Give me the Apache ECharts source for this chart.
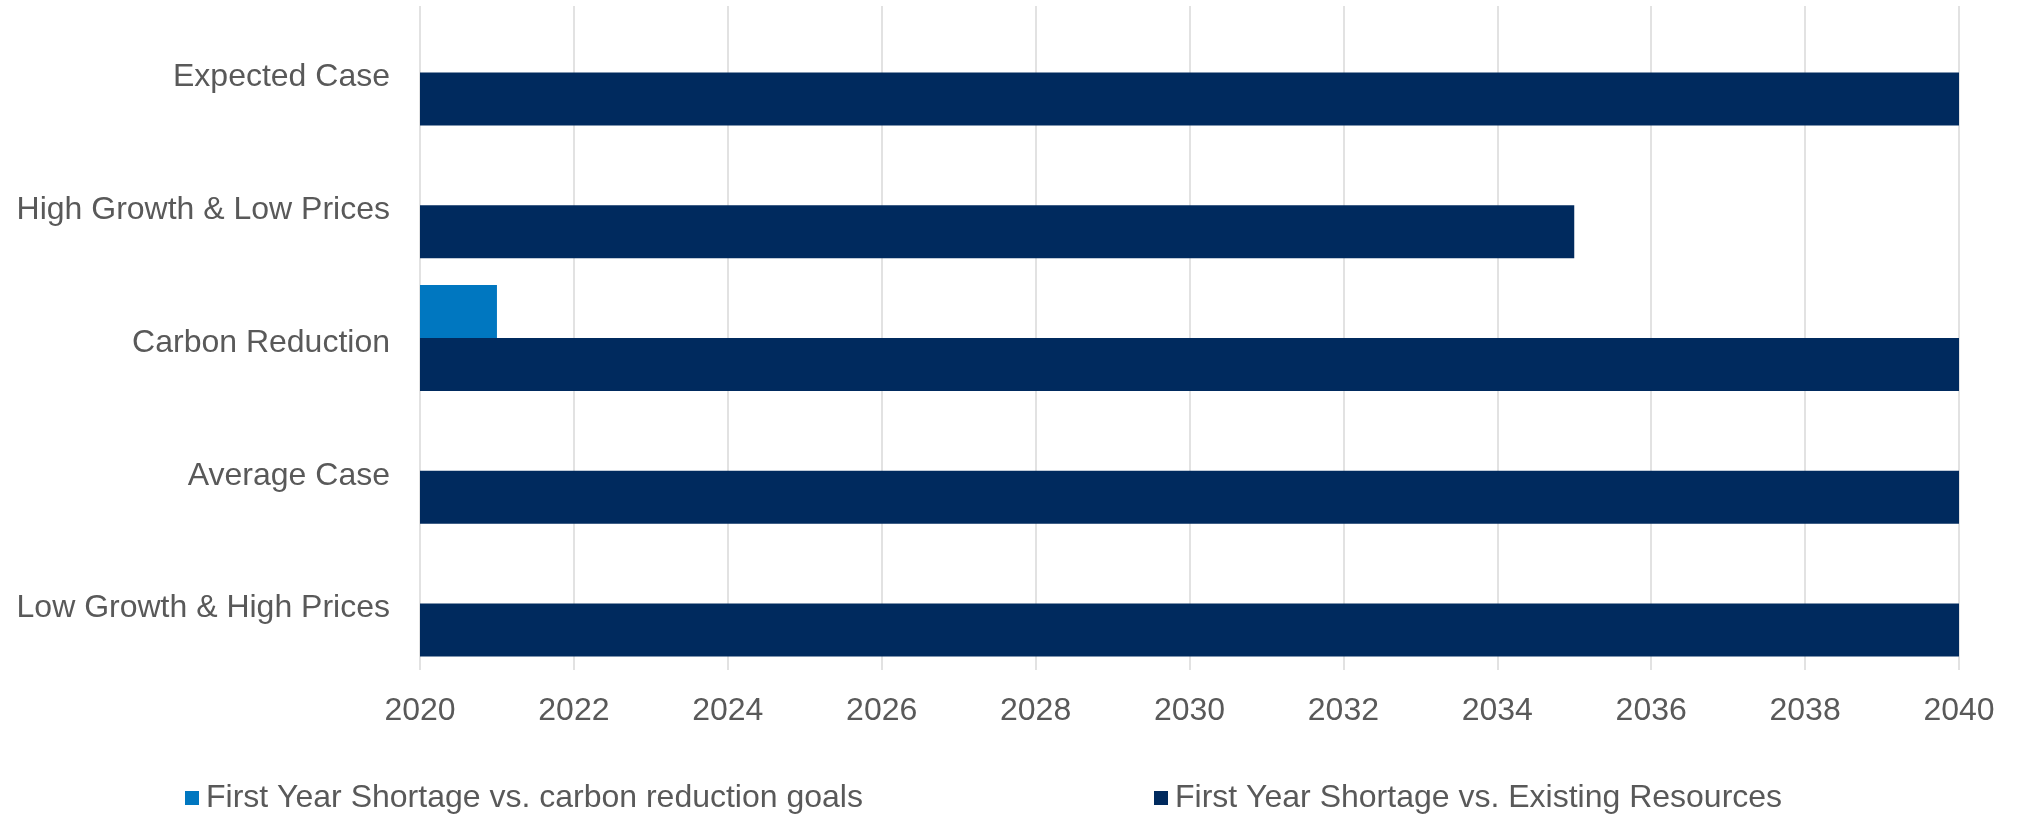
<!DOCTYPE html>
<html>
<head>
<meta charset="utf-8">
<script src="https://cdn.jsdelivr.net/npm/echarts@6/dist/echarts.min.js"></script>
<style>
  html, body { margin: 0; padding: 0; background: #ffffff; }
  #chart { width: 2021px; height: 815px; }
</style>
</head>
<body>
<div id="chart"></div>
<script>
const categories = ['Expected Case', 'High Growth & Low Prices', 'Carbon Reduction', 'Average Case', 'Low Growth & High Prices'];
const carbonGoalYears = [null, null, 2021, null, null];
const existingResourceYears = [2040, 2035, 2040, 2040, 2040];
const seriesNames = ['First Year Shortage vs. carbon reduction goals', 'First Year Shortage vs. Existing Resources'];
const axisMin = 2020;
const axisMax = 2040;
const axisStep = 2;

const FONT = '"Liberation Sans", Arial, sans-serif';
const TEXT = '#595959';

const chart = echarts.init(document.getElementById('chart'), null, { renderer: 'canvas' });
chart.setOption({
  animation: false,
  backgroundColor: '#ffffff',
  textStyle: { fontFamily: FONT },
  grid: { left: 420, right: 62, top: 6, bottom: 145, containLabel: false },
  legend: [
    {
      data: [seriesNames[0]],
      left: 180, top: 777,
      icon: 'rect', itemWidth: 14, itemHeight: 14, itemGap: 0,
      textStyle: { color: TEXT, fontSize: 32, fontFamily: FONT, padding: [0, 0, 0, 2] }
    },
    {
      data: [seriesNames[1]],
      left: 1149, top: 777,
      icon: 'rect', itemWidth: 14, itemHeight: 14, itemGap: 0,
      textStyle: { color: TEXT, fontSize: 32, fontFamily: FONT, padding: [0, 0, 0, 2] }
    }
  ],
  xAxis: {
    type: 'value',
    min: axisMin, max: axisMax, interval: axisStep,
    axisLine: { show: false },
    axisTick: { show: false },
    axisLabel: { color: TEXT, fontSize: 32, fontFamily: FONT, margin: 25, formatter: v => String(v) },
    splitLine: { show: true, lineStyle: { color: '#d9d9d9', width: 1.5 } }
  },
  yAxis: {
    type: 'category',
    data: categories,
    inverse: true,
    axisLine: { show: false },
    axisTick: { show: false },
    axisLabel: {
      color: TEXT, fontSize: 32, fontFamily: FONT, margin: 30,
      formatter: v => '{a|' + v + '}',
      rich: { a: { color: TEXT, fontSize: 32, fontFamily: FONT, padding: [10, 0, 0, 0] } }
    },
    splitLine: { show: false }
  },
  series: [
    {
      name: seriesNames[0],
      type: 'bar',
      data: carbonGoalYears,
      barWidth: 53,
      barGap: '0%',
      itemStyle: { color: '#0077C0' }
    },
    {
      name: seriesNames[1],
      type: 'bar',
      data: existingResourceYears,
      barWidth: 53,
      barGap: '0%',
      itemStyle: { color: '#002A5E' }
    }
  ]
});
</script>
</body>
</html>
